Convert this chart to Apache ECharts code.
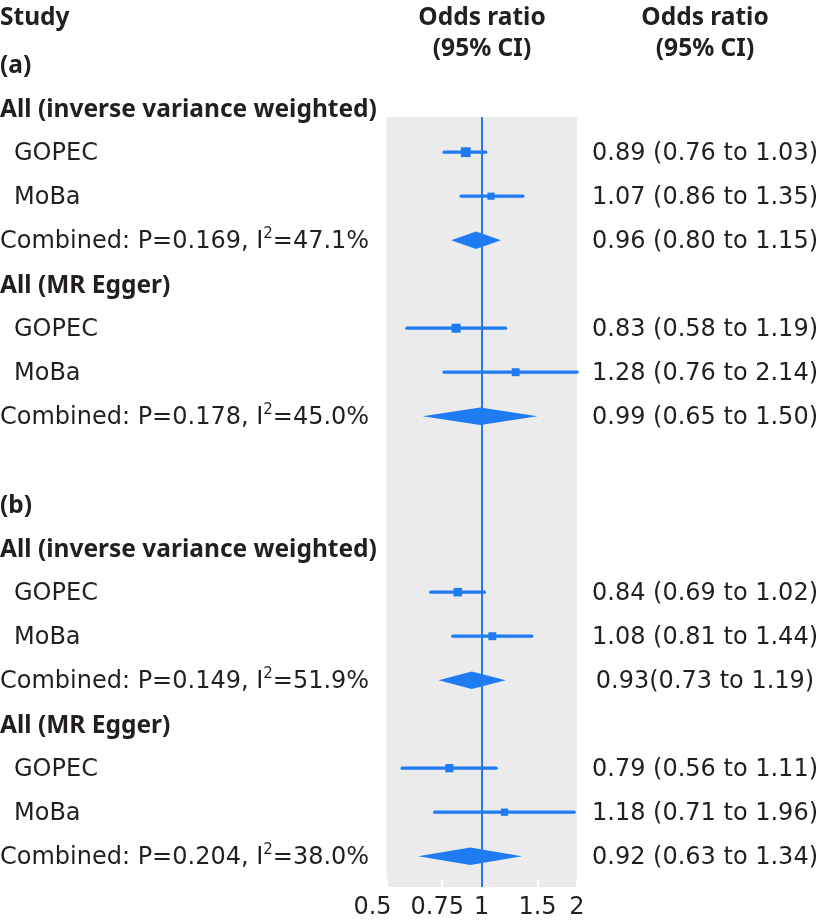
<!DOCTYPE html>
<html>
<head>
<meta charset="utf-8">
<script src="https://cdn.jsdelivr.net/npm/echarts@6/dist/echarts.min.js"></script>
<style>
html,body{margin:0;padding:0;background:#fff;}
#chart{width:824px;height:924px;}
</style>
</head>
<body>
<div id="chart"></div>
<script>
// ---- data ----
const rowLabels = [
  '(a)',
  'All (inverse variance weighted)',
  'GOPEC',
  'MoBa',
  'Combined: P=0.169, I²=47.1%',
  'All (MR Egger)',
  'GOPEC',
  'MoBa',
  'Combined: P=0.178, I²=45.0%',
  '',
  '(b)',
  'All (inverse variance weighted)',
  'GOPEC',
  'MoBa',
  'Combined: P=0.149, I²=51.9%',
  'All (MR Egger)',
  'GOPEC',
  'MoBa',
  'Combined: P=0.204, I²=38.0%'
];
const rowKinds = ['heading','heading','study','study','pooled','heading','study','study','pooled','blank',
                  'heading','heading','study','study','pooled','heading','study','study','pooled'];
const oddsRatio = [null,null,0.89,1.07,0.96,null,0.83,1.28,0.99,null,null,null,0.84,1.08,0.93,null,0.79,1.18,0.92];
const ciLower   = [null,null,0.76,0.86,0.80,null,0.58,0.76,0.65,null,null,null,0.69,0.81,0.73,null,0.56,0.71,0.63];
const ciUpper   = [null,null,1.03,1.35,1.15,null,1.19,2.14,1.50,null,null,null,1.02,1.44,1.19,null,1.11,1.96,1.34];
const studyWeight = [null,null,62,38,null,null,55,45,null,null,null,null,50,45,null,null,48,39,null];
const ciText = ['','','0.89 (0.76 to 1.03)','1.07 (0.86 to 1.35)','0.96 (0.80 to 1.15)','',
  '0.83 (0.58 to 1.19)','1.28 (0.76 to 2.14)','0.99 (0.65 to 1.50)','','','',
  '0.84 (0.69 to 1.02)','1.08 (0.81 to 1.44)','0.93(0.73 to 1.19)','',
  '0.79 (0.56 to 1.11)','1.18 (0.71 to 1.96)','0.92 (0.63 to 1.34)'];
const xTicks = [0.5, 0.75, 1, 1.5, 2];
const headerStudy = 'Study';
const headerOR = ['Odds ratio', '(95% CI)'];

// ---- styles ----
const BLUE = '#1f7bf2';
const TEXT = '#231f20';
const REG = 'DejaVu Sans';
const BOLD = 'Noto Sans';
const FS = 24;
const X_MIN = 0.5, X_MAX = 2;

const rows = rowLabels.map((l, i) => [i]);

const chart = echarts.init(document.getElementById('chart'), null, {renderer: 'canvas'});

function renderRow(params, api) {
  const i = api.value(0);
  const kind = rowKinds[i];
  const y = api.coord([1, i])[1];
  const ty = y + 1.5;
  const children = [];
  if (rowLabels[i]) {
    const bold = kind === 'heading';
    const txt = rowLabels[i].replace('²', '{sup|2}');
    children.push({
      type: 'text',
      x: kind === 'study' ? 14 : 0,
      y: ty,
      style: {
        text: txt,
        fill: TEXT,
        fontFamily: bold ? BOLD : REG,
        fontWeight: bold ? 'bold' : 'normal',
        fontSize: bold ? 24.5 : FS,
        lineHeight: 31,
        verticalAlign: 'middle',
        align: 'left',
        rich: {
          sup: {fontSize: 15, fontFamily: REG, fill: TEXT, verticalAlign: 'top', lineHeight: 15}
        }
      }
    });
  }
  if (ciText[i]) {
    children.push({
      type: 'text',
      x: 705, y: ty,
      style: {text: ciText[i], fill: TEXT, fontFamily: REG, fontSize: FS, align: 'center', verticalAlign: 'middle'}
    });
  }
  if (kind === 'study' || kind === 'pooled') {
    const p0 = api.coord([Math.max(ciLower[i], X_MIN), i]);
    const p1 = api.coord([Math.min(ciUpper[i], X_MAX), i]);
    const pc = api.coord([oddsRatio[i], i]);
    if (kind === 'study') {
      const s = 3 + 0.11 * studyWeight[i];
      children.push({type: 'line', shape: {x1: p0[0], y1: y, x2: p1[0], y2: y},
        style: {stroke: BLUE, lineWidth: 3.2, lineCap: 'round'}});
      children.push({type: 'rect', shape: {x: pc[0] - s / 2, y: y - s / 2, width: s, height: s},
        style: {fill: BLUE}});
    } else {
      const h = 8.7;
      children.push({type: 'polygon', shape: {points: [[p0[0], y], [pc[0], y - h], [p1[0], y], [pc[0], y + h]]},
        style: {fill: BLUE}});
    }
  }
  return {type: 'group', children: children};
}

const option = {
  animation: false,
  backgroundColor: '#fff',
  grid: {
    left: 386.5, top: 117, width: 190.5, height: 770,
    show: true, backgroundColor: '#ebebeb', borderWidth: 0
  },
  xAxis: {
    type: 'log', logBase: 2, min: X_MIN, max: X_MAX,
    axisLine: {show: false},
    splitLine: {show: false},
    axisTick: {show: true, inside: true, length: 8, customValues: xTicks,
      lineStyle: {color: '#ffffff', width: 2}},
    axisLabel: {show: true, customValues: xTicks, color: TEXT, fontFamily: REG, fontSize: FS, margin: 9,
      formatter: v => {
        const s = String(Number(Number(v).toPrecision(4)));
        if (s === '0.5') return '{a|' + s + '}';
        if (s === '0.75') return '{b|' + s + '}';
        return s;
      },
      rich: {
        a: {fontFamily: REG, fontSize: FS, color: TEXT, padding: [0, 28, 0, 0]},
        b: {fontFamily: REG, fontSize: FS, color: TEXT, padding: [0, 10, 0, 0]}
      }
    }
  },
  yAxis: {
    type: 'value', inverse: true, min: 1.2, max: 18.7,
    show: false
  },
  graphic: [
    {type: 'text', x: 0, y: 18, style: {text: headerStudy, fill: TEXT, fontFamily: BOLD, fontWeight: 'bold', fontSize: 24.5, verticalAlign: 'middle'}},
    {type: 'text', x: 482, y: 18, style: {text: headerOR[0], fill: TEXT, fontFamily: BOLD, fontWeight: 'bold', fontSize: 24.5, align: 'center', verticalAlign: 'middle'}},
    {type: 'text', x: 482, y: 49, style: {text: headerOR[1], fill: TEXT, fontFamily: BOLD, fontWeight: 'bold', fontSize: 24.5, align: 'center', verticalAlign: 'middle'}},
    {type: 'text', x: 705, y: 18, style: {text: headerOR[0], fill: TEXT, fontFamily: BOLD, fontWeight: 'bold', fontSize: 24.5, align: 'center', verticalAlign: 'middle'}},
    {type: 'text', x: 705, y: 49, style: {text: headerOR[1], fill: TEXT, fontFamily: BOLD, fontWeight: 'bold', fontSize: 24.5, align: 'center', verticalAlign: 'middle'}}
  ],
  series: [{
    type: 'custom',
    renderItem: renderRow,
    data: rows,
    clip: false,
    encode: {y: 0},
    markLine: {
      silent: true, symbol: 'none', label: {show: false},
      lineStyle: {color: BLUE, width: 2, type: 'solid'},
      data: [{xAxis: 1}]
    },
    z: 3
  }]
};
chart.setOption(option);
</script>
</body>
</html>
